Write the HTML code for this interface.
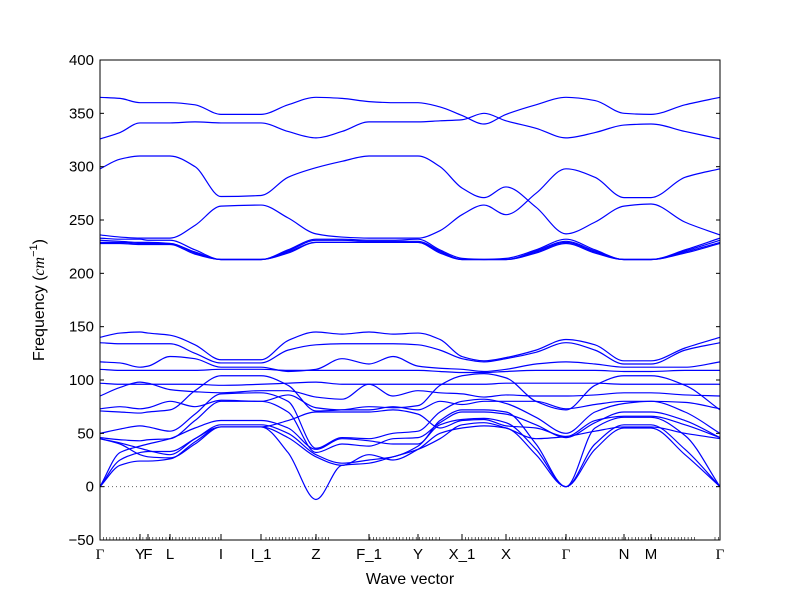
<!DOCTYPE html>
<html><head><meta charset="utf-8"><style>
body{margin:0;background:#fff;}
svg{display:block;font-family:"Liberation Sans","DejaVu Sans",sans-serif;}
</style></head><body>
<svg id="chart" width="800" height="600" viewBox="0 0 800 600">
<rect x="0" y="0" width="800" height="600" fill="#fff"/>
<g id="bands"></g>
<g id="axes"></g>
</svg>
<script>
// k-path distances (sample grid) and high-symmetry points
const kGrid=[0,20,40,48,70,95,121,161,188,216,242,269,293,318,340,362,384,406,436,466,495,524,551,585,620];
const kLabels=["Γ","Y","F","L","I","I_1","Z","F_1","Y","X_1","X","Γ","N","M","Γ"];
const kLabelPos=[0,40,48,70,121,161,216,269,318,362,406,466,524,551,620];
const yTicks=[-50,0,50,100,150,200,250,300,350,400];
// band frequencies (cm^-1) on kGrid
const band1=[365,364,360,360,360,358,349,349,358,365,364,361,360,360,356,348,340,349,358,365,362,350,349,358,365];
const band2=[326,332,341,341,341,342,341,341,333,327,333,342,342,342,343,344,350,343,336,327,332,339,340,333,326];
const band3=[298,307,310,310,310,300,272,273,290,299,305,310,310,310,300,280,271,281,262,237,248,263,265,248,236];
const band4=[236,234,233,233,233,245,263,264,252,237,234,233,233,233,240,255,264,255,275,298,290,271,271,290,298];
const band5=[233,232,232,231,231,222,213,213,222,232,232,231,231,232,222,214,213,214,222,232,222,213,213,222,233];
const band6=[231,230,229,229,228,220,213,213,221,231,231,230,230,230,221,213,213,213,221,230,221,213,213,221,231];
const band7=[229,229,228,228,228,219,213,213,220,229,229,229,229,229,220,213,213,213,220,229,220,213,213,220,229];
const band8=[228,228,227,227,227,218,213,213,219,229,229,229,229,229,219,213,213,213,219,228,219,213,213,219,228];
const low1=[140,144,145,144,142,133,119,119,137,145,143,145,143,144,138,122,118,121,128,138,133,118,118,130,140];
const low2=[135,134,134,134,134,125,116,116,128,133,134,134,134,133,128,120,117,120,126,135,128,115,115,128,135];
const low3=[117,116,112,113,122,120,112,112,108,110,120,115,122,113,111,110,108,110,115,117,115,112,112,112,117];
const low4=[110,109,109,109,109,109,110,110,109,109,109,109,109,109,108,107,107,108,109,109,109,108,108,109,109];
const low5=[97,96,96,96,96,96,95,96,97,98,96,96,96,96,96,96,96,97,97,97,97,96,96,96,96];
const low6=[85,93,98,97,91,89,88,90,90,84,82,96,85,90,88,87,84,86,85,85,86,88,88,86,85];
const low7=[73,75,73,74,80,75,81,80,86,74,72,72,75,72,80,77,80,80,80,73,77,80,80,79,73];
const low8=[71,70,69,70,72,90,104,104,95,71,72,75,74,76,95,104,106,102,80,72,95,104,104,95,72];
const low9=[50,54,57,56,52,68,87,88,80,36,46,45,50,52,70,80,82,78,65,50,70,78,80,70,50];
const low10=[46,44,43,44,45,62,80,80,70,32,40,38,45,46,60,70,70,68,58,46,60,70,70,62,46];
const low11=[45,40,30,28,27,40,56,56,62,70,70,70,72,68,55,62,63,57,55,47,62,66,66,58,46];
const soft=[45,41,36,34,30,45,56,56,32,-12,20,22,28,35,45,58,60,55,45,47,52,56,56,50,45];
const acoustic1=[0,20,24,24,26,42,56,56,46,28,20,30,25,35,50,55,57,55,30,0,35,55,55,30,0];
const acoustic2=[0,25,32,33,33,45,58,58,50,30,22,25,28,38,58,63,64,60,35,0,40,58,58,35,0];
const acoustic3=[0,32,38,40,45,55,62,62,55,35,45,43,40,40,62,72,72,70,40,0,55,65,65,48,0];
const allBands=[band1,band2,band3,band4,band5,band6,band7,band8,low1,low2,low3,low4,low5,low6,low7,low8,low9,low10,low11,soft,acoustic1,acoustic2,acoustic3];

const X0=100,X1=720,Y0=540,Y1=60,KMAX=620,VMIN=-50,VMAX=400;
const xs=k=>X0+(k/KMAX)*(X1-X0);
const ys=v=>Y0-(v-VMIN)/(VMAX-VMIN)*(Y0-Y1);
const NS="http://www.w3.org/2000/svg";
function mk(t,a,p){const e=document.createElementNS(NS,t);for(const k in a)e.setAttribute(k,a[k]);p.appendChild(e);return e;}
const bandsG=document.getElementById('bands'),axG=document.getElementById('axes');

const zl=mk('line',{x1:X0,x2:X1,y1:ys(0),y2:ys(0),stroke:'#666','stroke-width':1,'stroke-dasharray':'1,3'},bandsG);



// monotone cubic (Fritsch-Carlson) path through points
function monoPath(P){
  const n=P.length,dx=[],s=[],m=new Array(n);
  for(let i=0;i<n-1;i++){dx[i]=P[i+1][0]-P[i][0];s[i]=(P[i+1][1]-P[i][1])/dx[i];}
  m[0]=s[0];m[n-1]=s[n-2];
  for(let i=1;i<n-1;i++){
    if(s[i-1]*s[i]<=0)m[i]=0;
    else{const w1=2*dx[i]+dx[i-1],w2=dx[i]+2*dx[i-1];m[i]=(w1+w2)/(w1/s[i-1]+w2/s[i]);}
  }
  let d='M'+P[0][0].toFixed(2)+','+P[0][1].toFixed(2);
  for(let i=0;i<n-1;i++){
    const h=dx[i]/3;
    d+='C'+(P[i][0]+h).toFixed(2)+','+(P[i][1]+m[i]*h).toFixed(2)+' '+(P[i+1][0]-h).toFixed(2)+','+(P[i+1][1]-m[i+1]*h).toFixed(2)+' '+P[i+1][0].toFixed(2)+','+P[i+1][1].toFixed(2);
  }
  return d;
}

allBands.forEach((b,bi)=>{
  const P=b.map((v,i)=>[xs(kGrid[i]),ys(v)]);
  const path=mk('path',{d:monoPath(P),fill:'none',stroke:'#0000ff','stroke-width':1.2},bandsG);
  
  
});

const fr=mk('rect',{x:X0,y:Y1,width:X1-X0,height:Y0-Y1,fill:'none',stroke:'#000','stroke-width':1},axG);



yTicks.forEach(v=>{
  const y=ys(v);
  mk('line',{x1:X0,x2:X0+4,y1:y,y2:y,stroke:'#000'},axG);
  mk('line',{x1:X1,x2:X1-4,y1:y,y2:y,stroke:'#000'},axG);
  const t=mk('text',{x:X0-6,y:y+5,'text-anchor':'end','font-size':15,fill:'#000'},axG);
  t.textContent=v<0?'\u2212'+Math.abs(v):String(v);
  
  
});
[[0,122],[166,232],[270,340],[362,400],[406,466],[466,595],[615,620]].forEach(r=>{
  for(let k=r[0];k<=r[1];k+=3.3){
    const x=xs(k);
    mk('line',{x1:x,x2:x,y1:Y0,y2:Y0-3,stroke:'#000','stroke-width':0.6},axG);
  }
});
kLabels.forEach((lab,i)=>{
  const x=xs(kLabelPos[i]);
  mk('line',{x1:x,x2:x,y1:Y0,y2:Y0-6,stroke:'#000'},axG);
  const t=mk('text',{x:x,y:Y0+19,'text-anchor':'middle','font-size':15,fill:'#000'},axG);
  if(lab==='Γ')t.setAttribute('font-family','"Liberation Serif",serif');
  t.textContent=lab;
  
  
});
const xt=mk('text',{x:410,y:584,'text-anchor':'middle','font-size':16,fill:'#000'},axG);
xt.textContent='Wave vector';


const yt=mk('text',{x:0,y:0,'text-anchor':'middle','font-size':16,fill:'#000',transform:'translate(44,300) rotate(-90)'},axG);
yt.innerHTML='Frequency (<tspan font-style="italic" font-family="Liberation Serif,serif">cm</tspan><tspan font-size="11" dy="-7">\u22121</tspan><tspan dy="7">)</tspan>';


</script>
</body></html>
